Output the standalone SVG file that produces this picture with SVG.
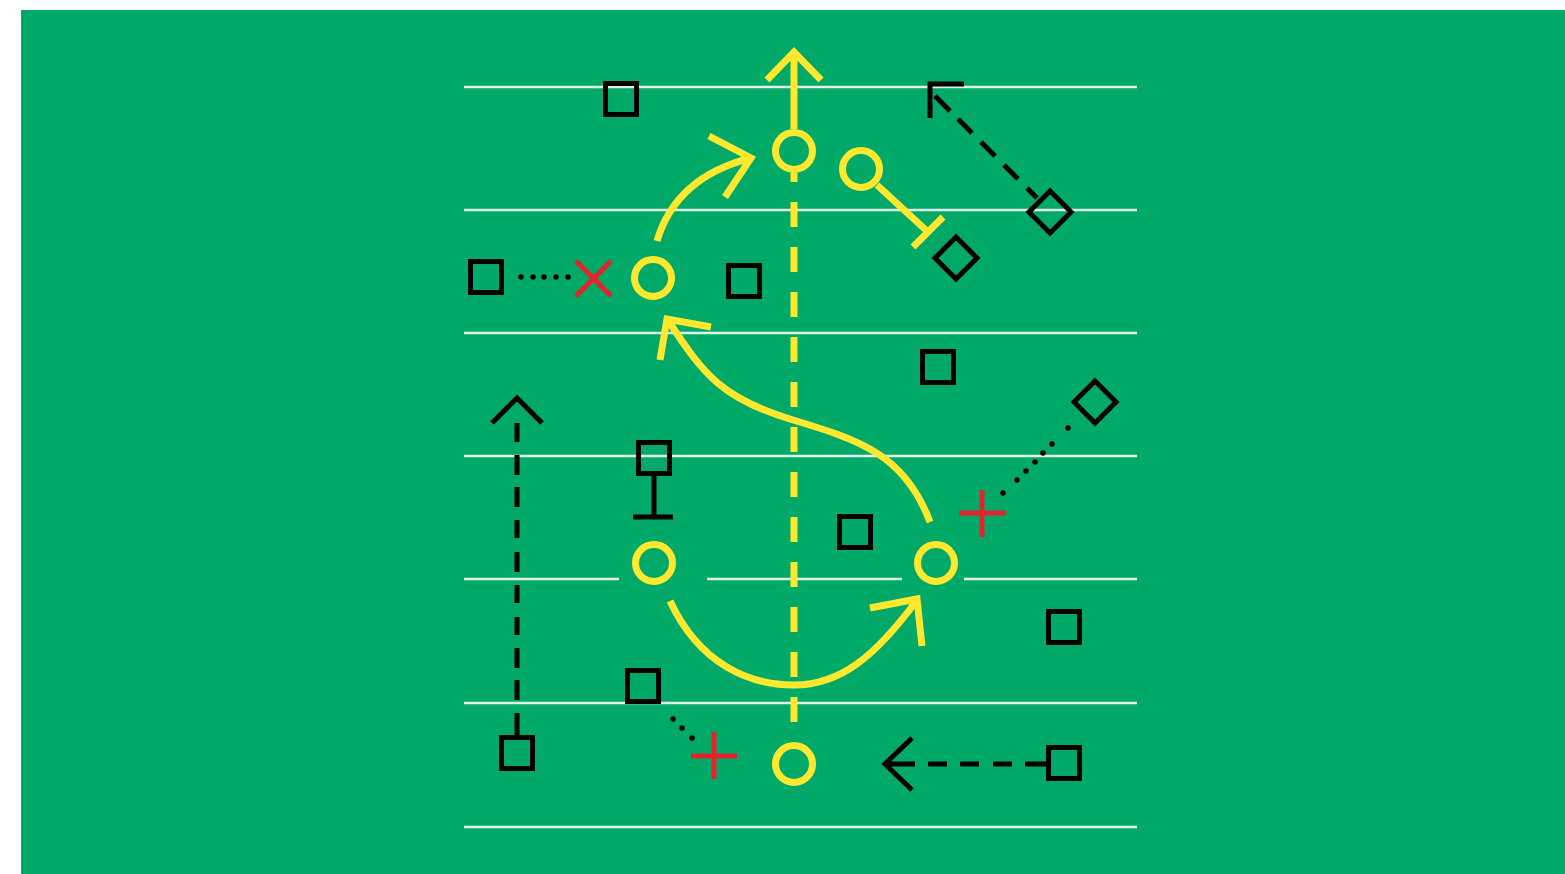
<svg xmlns="http://www.w3.org/2000/svg" width="1565" height="874" viewBox="0 0 1565 874">
<style>
.field{fill:#00a968}
.yard{stroke:#e2f1e8;stroke-width:2.5;fill:none}
.sq{fill:none;stroke:#000;stroke-width:5}
.ring{fill:none;stroke:#ffe82d;stroke-width:7}
.y{fill:none;stroke:#ffe82d;stroke-width:7}
.k{fill:none;stroke:#000;stroke-width:5}
.dot{fill:none;stroke:#000;stroke-width:5.5;stroke-linecap:round}
.r{fill:none;stroke:#e5232b;stroke-width:5}
</style>
<rect width="1565" height="874" fill="#fff"/>
<rect class="field" x="21" y="10" width="1544" height="864"/>
<g id="yardlines">
<path class="yard" d="M464,87H1137M464,210H1137M464,333H1137M464,456H1137M464,579H619M707,579H902M964,579H1137M464,703H1137M464,827H1137"/>
</g>
<g id="connectors">
<path class="y" d="M794,129V52M767,80L794,52L821,80"/>
<path class="y" d="M794,173V722" stroke-dasharray="25 20" stroke-dashoffset="16"/>
<path class="y" d="M657,241Q676,177 751,158M709,136L751,158L725,197"/>
<path class="y" d="M930,522C905,455 860,440 793,420S705,378 668,320M660,360L667,319L711,327"/>
<path class="y" d="M670,601C700,665 750,685 794,685C840,685 875,657 917,600M870,608L917,599L922,646"/>
<path class="y" d="M877,185L928,232M913,247L943,217"/>
<path class="k" d="M930,118V84H964M935,96L950,111M958,119L972,133M981,142L995,156M1004,165L1018,179M1027,188L1037,198"/>
<path class="k" d="M492,423L517,398L542,423M517,423V442M517,455V475M517,487V507M517,520V538M517,552V572M517,585V603M517,617V635M517,648V668M517,680V700M517,713V735"/>
<path class="k" d="M912,738L885,764L912,790M885,764H915M928,764H947M960,764H979M993,764H1012M1025,764H1046"/>
<path class="k" d="M654,476V517M633,517H673"/>
<path class="dot" d="M521,277h0M533,277h0M544,277h0M556,277h0M568,277h0"/>
<path class="dot" d="M673,719h0M682,728h0M692,738h0"/>
<path class="dot" d="M1003,493h0M1017,480h0M1026,471h0M1035,462h0M1043,453h0M1052,444h0M1068,428h0"/>
</g>
<g id="sq1"><rect class="sq" x="605.5" y="83.5" width="31" height="31"/></g>
<g id="sq2"><rect class="sq" x="470.5" y="261.5" width="31" height="31"/></g>
<g id="sq3"><rect class="sq" x="728.5" y="265.5" width="31" height="31"/></g>
<g id="sq4"><rect class="sq" x="922.5" y="351.5" width="31" height="31"/></g>
<g id="sq5"><rect class="sq" x="638.5" y="442.5" width="31" height="31"/></g>
<g id="sq6"><rect class="sq" x="839.5" y="516.5" width="31" height="31"/></g>
<g id="sq7"><rect class="sq" x="1048.5" y="611.5" width="31" height="31"/></g>
<g id="sq8"><rect class="sq" x="627.5" y="670.5" width="31" height="31"/></g>
<g id="sq9"><rect class="sq" x="501.5" y="737.5" width="31" height="31"/></g>
<g id="sq10"><rect class="sq" x="1048.5" y="747.5" width="31" height="31"/></g>
<g id="dia1"><path class="sq" d="M956,237L977,258L956,279L935,258Z"/></g>
<g id="dia2"><path class="sq" d="M1050,191L1071,212L1050,233L1029,212Z"/></g>
<g id="dia3"><path class="sq" d="M1095,381L1116,402L1095,423L1074,402Z"/></g>
<g id="o1"><circle class="ring" cx="794" cy="151" r="18.5"/></g>
<g id="o2"><circle class="ring" cx="861" cy="169" r="18.5"/></g>
<g id="o3"><circle class="ring" cx="653" cy="278" r="18.5"/></g>
<g id="o4"><circle class="ring" cx="654" cy="563" r="18.5"/></g>
<g id="o5"><circle class="ring" cx="936" cy="563" r="18.5"/></g>
<g id="o6"><circle class="ring" cx="794" cy="764" r="18.5"/></g>
<g id="x1"><path class="r" d="M576,261L611,296M611,261L576,296"/></g>
<g id="plus1"><path class="r" d="M982,490V537M959,513H1006"/></g>
<g id="plus2"><path class="r" d="M714,732V779M691,756H737"/></g>
</svg>
